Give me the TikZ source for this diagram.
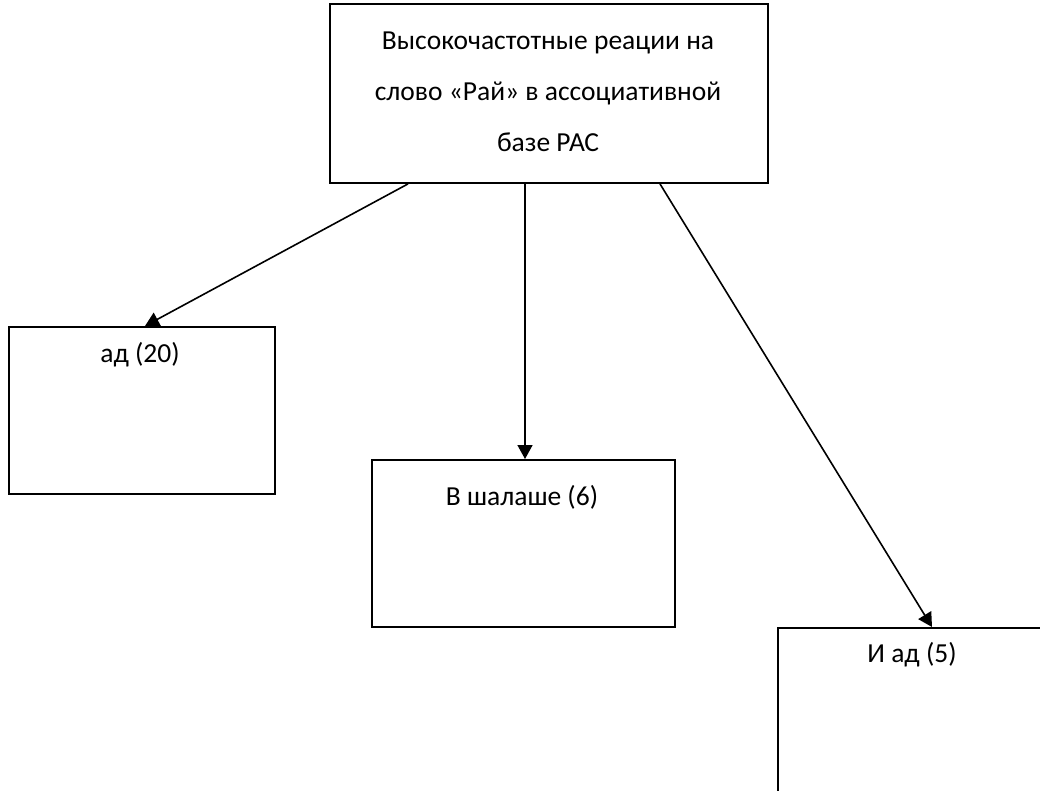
\documentclass[tikz,border=0pt]{standalone}
\usepackage{fontspec}
\setmainfont{Carlito}
\usepackage{xcolor}
\usepackage{tikz}
\usetikzlibrary{calc,arrows.meta}
\definecolor{AssocLine}{RGB}{0, 0, 0}

\begin{document}
\begin{tikzpicture}[x=1pt, y=-1pt,
    RespBox/.style={draw=AssocLine, line width=1.9pt, rectangle, anchor=north west, inner sep=0pt},
    RespText/.style={font=\fontsize{27.5}{51}\selectfont, align=center, inner sep=0pt},
    RespArrow/.style={draw=AssocLine, line width=1.6pt, -{Triangle[length=14pt, width=15pt]}}]
    % Page frame
    \path[use as bounding box, clip] (0,0) rectangle (1040,790);
    \fill[white] (0,0) rectangle (1040,790);

    % Stimulus box
    \node[RespBox, minimum width=438pt, minimum height=179pt] (stimul) at (329,3) {};
    \node[RespText] (stimulText) at (548,92) {Высокочастотные реации на\\слово «Рай» в ассоциативной\\базе РАС};

    % Reaction boxes
    \node[RespBox, minimum width=266pt, minimum height=167pt] (ad) at (8,326) {};
    \node[RespText] (adText) at (140,355) {ад (20)};

    \node[RespBox, minimum width=303pt, minimum height=167pt] (shalash) at (371,459) {};
    \node[RespText] (shalashText) at (522,497) {В шалаше (6)};

    \node[RespBox, minimum width=270pt, minimum height=175pt] (iad) at (777,627) {};
    \node[RespText] (iadText) at (912,655) {И ад (5)};

    % Arrows
    \draw[RespArrow] (stimul.south -| 408,0) -- (ad.north -| 145,0);
    \draw[RespArrow] (stimul.south -| 525,0) -- (shalash.north -| 525,0);
    \draw[RespArrow] (stimul.south -| 660,0) -- (iad.north -| 932,0);
\end{tikzpicture}
\end{document}
